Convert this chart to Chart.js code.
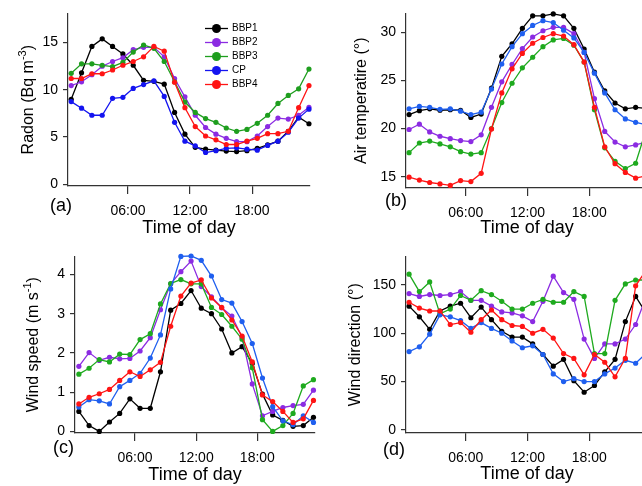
<!DOCTYPE html>
<html><head><meta charset="utf-8">
<script src="https://cdn.jsdelivr.net/npm/chart.js@4.4.1/dist/chart.umd.min.js"></script>
<style>
html,body{margin:0;padding:0;background:#fff;}
body{overflow:hidden;width:642px;height:486px;position:relative}
canvas{position:absolute}
</style></head><body>
<canvas id="ca" width="321" height="243" style="left:0;top:0"></canvas>
<canvas id="cb" width="340" height="243" style="left:321px;top:0"></canvas>
<canvas id="cc" width="321" height="243" style="left:0;top:243px"></canvas>
<canvas id="cd" width="340" height="243" style="left:321px;top:243px"></canvas>
<script>
// ---- data ----
const hours = [0.5,1.5,2.5,3.5,4.5,5.5,6.5,7.5,8.5,9.5,10.5,11.5,12.5,13.5,14.5,15.5,16.5,17.5,18.5,19.5,20.5,21.5,22.5,23.5];
const seriesNames = ['BBP1','BBP2','BBP3','CP','BBP4'];
const xTickValues = [6,12,18];
const xTickLabels = ['06:00','12:00','18:00'];

const radonBBP1 = [9.0,11.8,14.6,15.4,14.6,13.8,12.6,11.0,10.9,10.6,7.6,5.3,3.9,3.7,3.6,3.5,3.45,3.55,3.8,4.15,4.55,5.6,7.1,6.4];
const radonBBP2 = [10.45,10.85,11.6,12.5,13.0,13.4,14.25,14.5,14.5,13.5,11.2,9.25,7.3,6.0,5.3,4.85,4.5,4.5,5.1,6.1,7.0,6.9,7.3,8.15];
const radonBBP3 = [11.75,12.75,12.75,12.6,12.45,12.9,14.0,14.75,14.4,13.0,10.85,8.7,7.6,6.95,6.55,5.95,5.6,5.8,6.45,7.3,8.55,9.4,10.1,12.2];
const radonCP   = [8.75,8.05,7.3,7.3,9.1,9.2,10.15,10.55,10.95,9.3,6.55,4.55,4.05,3.35,3.55,3.8,3.85,3.7,3.6,4.1,4.55,5.5,7.0,7.95];
const radonBBP4 = [11.2,11.2,11.7,11.7,12.1,12.6,13.0,13.5,14.6,14.1,10.8,8.1,6.1,5.1,4.7,4.2,4.2,4.55,4.85,5.35,5.35,5.6,8.1,10.45];

const tempBBP1 = [21.45,21.85,22.05,21.9,21.95,21.9,21.15,21.5,24.2,27.5,28.8,30.4,31.7,31.7,31.9,31.7,30.4,28.25,25.85,23.9,22.65,22.05,22.2,22.1];
const tempBBP2 = [19.9,20.45,19.65,19.2,18.95,18.75,18.65,19.35,22.2,24.85,26.65,28.3,29.5,30.15,30.5,30.5,29.85,27.9,23.1,19.7,18.6,18.1,18.3,18.6];
const tempBBP3 = [17.5,18.5,18.7,18.4,18.1,17.6,17.35,17.5,20.0,22.7,24.7,26.3,27.4,28.5,29.2,29.35,28.65,26.9,21.95,18.0,16.6,15.85,16.4,19.8];
const tempCP   = [22.05,22.3,22.2,22.0,22.05,21.8,21.45,21.7,24.1,26.7,28.5,29.85,30.7,31.2,31.0,30.2,29.4,27.9,25.75,23.7,21.95,21.0,20.65,20.4];
const tempBBP4 = [14.95,14.65,14.4,14.25,14.1,14.6,14.5,15.35,19.95,23.7,26.2,27.8,28.85,29.45,29.85,29.6,28.7,26.9,22.2,18.1,16.35,15.45,14.85,15.1];

const speedBBP1 = [0.51,0.15,0.0,0.24,0.46,0.83,0.59,0.59,1.52,3.09,3.26,3.59,3.14,3.0,2.61,2.0,2.16,1.73,0.95,0.42,0.28,0.13,0.15,0.36];
const speedBBP2 = [1.66,2.01,1.81,1.89,1.85,1.86,2.05,2.39,3.1,3.76,4.07,4.34,3.69,3.43,3.15,2.94,2.4,1.21,0.4,0.51,0.61,0.66,0.69,1.05];
const speedBBP3 = [1.46,1.61,1.83,1.77,1.97,1.96,2.34,2.49,3.25,3.77,3.87,3.76,3.76,3.16,2.98,2.68,2.35,1.62,0.3,0.0,0.15,0.46,1.16,1.32];
const speedCP   = [0.62,0.81,0.78,0.7,1.14,1.3,1.48,1.87,2.46,3.63,4.46,4.47,4.36,3.96,3.36,3.27,2.8,2.24,1.36,0.63,0.27,0.17,0.4,0.23];
const speedBBP4 = [0.7,0.87,0.96,1.07,1.3,1.52,1.4,1.57,1.76,2.68,3.45,3.78,3.86,3.4,3.16,2.84,2.43,1.77,0.93,0.76,0.51,0.23,0.32,0.79];

const dirBBP1 = [128,117,104,123,128,131,116,127,114,102,96,96,89,78,66,73,51,39,46,60,73,112,138,121];
const dirBBP2 = [141,138,140,139,140,143,134,134,128,122,121,118,112,133,159,142,135,94,74,89,89,94,109,137];
const dirBBP3 = [161,143,153,120,125,139,134,144,140,133,125,125,131,135,132,132,143,138,79,79,134,151,155,155];
const dirCP   = [81,86,99,119,117,113,105,111,105,100,92,85,87,78,58,50,53,50,50,58,64,72,69,79];
const dirBBP4 = [132,126,123,123,109,111,101,114,124,114,108,107,100,104,95,79,74,57,78,70,55,74,149,165];

const radonTicks = [0,5,10,15];
const tempTicks = [15,20,25,30];
const speedTicks = [0,1,2,3,4];
const dirTicks = [0,50,100,150];

// ---- styling ----
const FONT = '"Liberation Sans", Arial, sans-serif';
const AXIS = '#333';
const colorsA = ['#000000','#8B2BE2','#1E9E1E','#1414F0','#FF1414'];
const colorsB = ['#000000','#8B2BE2','#1EAA1E','#1F5FEF','#FF1414'];

const legendPlugin = {
  id: 'boxLegend',
  afterDraw(chart, args, o) {
    if (!o || !o.show) return;
    const ctx = chart.ctx;
    chart.data.datasets.forEach((ds, i) => {
      const y = o.y + i * o.step;
      ctx.save();
      ctx.strokeStyle = ds.borderColor; ctx.lineWidth = 1.3;
      ctx.beginPath(); ctx.moveTo(o.x, y); ctx.lineTo(o.x + o.len, y); ctx.stroke();
      ctx.fillStyle = ds.borderColor;
      ctx.beginPath(); ctx.arc(o.x + o.len / 2, y, o.r, 0, Math.PI * 2); ctx.fill();
      ctx.fillStyle = '#000'; ctx.font = o.size + 'px ' + FONT;
      ctx.textBaseline = 'middle'; ctx.textAlign = 'left';
      ctx.fillText(ds.label, o.x + o.len + o.gap, y);
      ctx.restore();
    });
  }
};
const labelPlugin = {
  id: 'panelLabel',
  afterDraw(chart, args, o) {
    if (!o || !o.text) return;
    const ctx = chart.ctx;
    ctx.save();
    ctx.font = '18px ' + FONT; ctx.fillStyle = '#000';
    ctx.textBaseline = 'alphabetic'; ctx.textAlign = 'left';
    ctx.fillText(o.text, o.x, o.y);
    ctx.restore();
  }
};
// rotated y-axis title with real superscript, centred on the chart area
const yTitlePlugin = {
  id: 'yTitle',
  afterDraw(chart, args, o) {
    if (!o || !o.parts) return;
    const ctx = chart.ctx;
    const ca = chart.chartArea;
    const cy = (ca.top + ca.bottom) / 2;
    const mainF = '16px ' + FONT, supF = '11px ' + FONT;
    ctx.save();
    let total = 0;
    o.parts.forEach(p => { ctx.font = p.sup ? supF : mainF; total += ctx.measureText(p.t).width; });
    ctx.translate(o.baseX, cy);
    ctx.rotate(-Math.PI / 2);
    ctx.fillStyle = '#000'; ctx.textBaseline = 'alphabetic'; ctx.textAlign = 'left';
    let x = -total / 2;
    o.parts.forEach(p => {
      ctx.font = p.sup ? supF : mainF;
      ctx.fillText(p.t, x, p.sup ? -7 : 0);
      x += ctx.measureText(p.t).width;
    });
    ctx.restore();
  }
};

function makePanel(id, p) {
  const datasets = p.series.map((vals, i) => ({
    label: seriesNames[i],
    data: hours.map((h, j) => ({x: h, y: vals[j]})),
    borderColor: p.colors[i], backgroundColor: p.colors[i],
    pointBackgroundColor: p.colors[i], pointBorderColor: p.colors[i],
    borderWidth: 1.3, pointRadius: 2.6, pointHoverRadius: 2.6, pointBorderWidth: 0,
    tension: 0, clip: false, order: 5 - i
  }));
  new Chart(document.getElementById(id), {
    type: 'line',
    data: {datasets},
    options: {
      responsive: false, animation: false, events: [],
      layout: {padding: {left: 0, top: p.top, right: p.right, bottom: 0}},
      plugins: {
        legend: {display: false}, tooltip: {enabled: false},
        boxLegend: p.legend || {show: false},
        panelLabel: p.label,
        yTitle: {parts: p.yTitle, baseX: p.ytX}
      },
      scales: {
        x: {
          type: 'linear', min: p.xmin, max: p.xmax, bounds: 'data',
          afterBuildTicks: s => { s.ticks = xTickValues.map(v => ({value: v})); },
          afterFit: s => { s.height = p.xh; },
          ticks: {autoSkip: false, maxRotation: 0, minRotation: 0, padding: 9, color: '#000',
                  font: {family: FONT, size: 14}, callback: (v, i) => xTickLabels[i]},
          grid: {display: true, drawOnChartArea: false, drawTicks: true, tickLength: 8, color: AXIS, lineWidth: 1.2},
          border: {display: true, color: AXIS, width: 1.2},
          title: {display: true, text: 'Time of day', color: '#000', font: {family: FONT, size: 18},
                  padding: {top: 0, bottom: p.xtPad}}
        },
        y: {
          type: 'linear', position: 'left', min: p.ymin, max: p.ymax, bounds: 'data',
          afterBuildTicks: s => { s.ticks = p.yTicks.map(v => ({value: v})); },
          afterFit: s => { s.width = p.yw; },
          ticks: {padding: 5, color: '#000', font: {family: FONT, size: 14}, callback: v => String(v)},
          grid: {display: true, drawOnChartArea: false, drawTicks: true, tickLength: 5, color: AXIS, lineWidth: 1.2},
          border: {display: true, color: AXIS, width: 1.2},
          title: {display: false}
        }
      }
    },
    plugins: [legendPlugin, labelPlugin, yTitlePlugin]
  });
}

makePanel('ca', {
  series: [radonBBP1, radonBBP2, radonBBP3, radonCP, radonBBP4], colors: colorsA,
  xmin: 0.19, xmax: 23.6, ymin: -0.2, ymax: 18.1, yTicks: radonTicks,
  top: 7, right: 11, yw: 68, xh: 57, xtPad: 4, ytX: 33,
  yTitle: [{t: 'Radon (Bq m'}, {t: '-3', sup: true}, {t: ')'}],
  legend: {show: true, x: 205, len: 23, r: 4.5, gap: 4, y: 28.5, step: 14, size: 10},
  label: {text: '(a)', x: 50, y: 211}
});
makePanel('cb', {
  series: [tempBBP1, tempBBP2, tempBBP3, tempCP, tempBBP4], colors: colorsB,
  xmin: 0.2, xmax: 23.7, ymin: 13.83, ymax: 31.95, yTicks: tempTicks,
  top: 8, right: 13, yw: 85, xh: 55, xtPad: 4, ytX: 45,
  yTitle: [{t: 'Air temperatire (\u00B0)'}],
  label: {text: '(b)', x: 64, y: 206}
});
makePanel('cc', {
  series: [speedBBP1, speedBBP2, speedBBP3, speedCP, speedBBP4], colors: colorsB,
  xmin: 0.12, xmax: 23.65, ymin: -0.04, ymax: 4.46, yTicks: speedTicks,
  top: 12, right: 6, yw: 75, xh: 53, xtPad: 0.5, ytX: 38,
  yTitle: [{t: 'Wind speed (m s'}, {t: '-1', sup: true}, {t: ')'}],
  label: {text: '(c)', x: 53, y: 210}
});
makePanel('cd', {
  series: [dirBBP1, dirBBP2, dirBBP3, dirCP, dirBBP4], colors: colorsB,
  xmin: 0.2, xmax: 23.7, ymin: -3.1, ymax: 179.4, yTicks: dirTicks,
  top: 12, right: 13, yw: 85, xh: 53, xtPad: 1, ytX: 39,
  yTitle: [{t: 'Wind direction (\u00B0)'}],
  label: {text: '(d)', x: 62, y: 212}
});
</script>
</body></html>
